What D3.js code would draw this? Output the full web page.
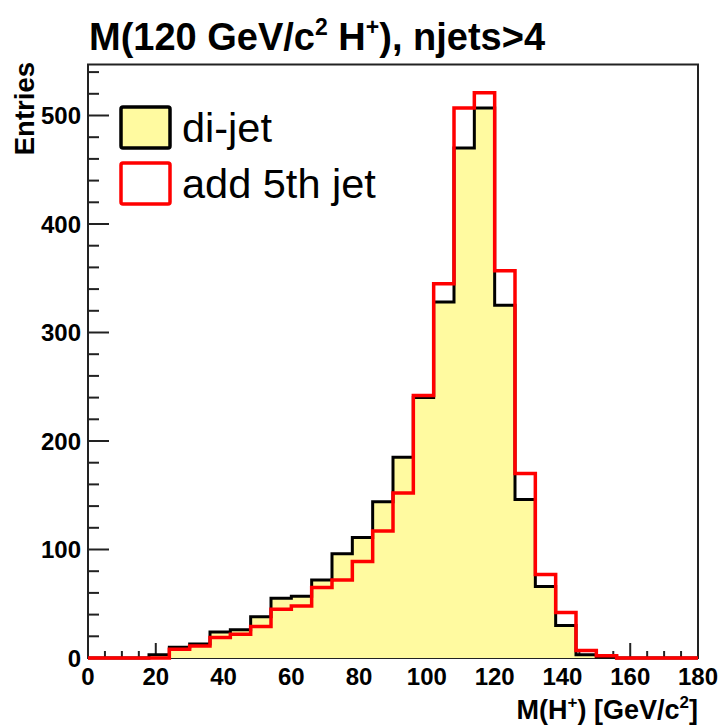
<!DOCTYPE html>
<html><head><meta charset="utf-8">
<script src="https://cdn.jsdelivr.net/npm/d3@7"></script>
<style>
html,body{margin:0;padding:0;background:#fff;}
svg text{font-family:"Liberation Sans",Arial,Helvetica,sans-serif;}
</style></head>
<body>
<svg id="c" width="724" height="725"></svg>
<script>
// Data: 30 bins of 6 GeV from 0 to 180
const binLow = 0, binWidth = 6;
const dijet    = [0,0,0,3,10,13,24,26,38,55,57,72,96,111,144,185,240,328,470,507,325,146,66,30,3,1,0,0,0,0];
const add5th   = [0,0,0,0,8,11,19,22,29,45,48,65,72,89,117,152,242,345,507,521,357,170,77,42,7,2,0,0,0,0];
const xTicks = [0,20,40,60,80,100,120,140,160,180];
const yTicks = [0,100,200,300,400,500];
const legendLabels = ["di-jet","add 5th jet"];

const svg = d3.select("#c");
const L = 88, R = 698, T = 64.5, B = 658;
const x = d3.scaleLinear().domain([0,180]).range([L,R]);
const y = d3.scaleLinear().domain([0,547]).range([B,T]);
const fillYellow = "#fffaa0";

// frame
svg.append("rect").attr("x",L).attr("y",T).attr("width",R-L).attr("height",B-T)
  .attr("fill","none").attr("stroke","#222").attr("stroke-width",2);

// y axis ticks (inside, pointing right)
const gy = svg.append("g");
const yMinor = d3.range(0,547,20);
gy.selectAll("line.mi").data(yMinor).enter().append("line")
  .attr("x1",L).attr("x2",d=> (d%100===0)? L+21 : L+11)
  .attr("y1",d=>y(d)).attr("y2",d=>y(d)).attr("stroke","#222").attr("stroke-width",2);
gy.selectAll("text").data(yTicks).enter().append("text")
  .attr("x",L-7).attr("y",d=>y(d)).attr("dy","0.36em").attr("text-anchor","end")
  .attr("font-weight","bold").attr("font-size",24).text(d=>d);

// x axis ticks (inside, pointing up)
const gx = svg.append("g");
const xMinor = d3.range(0,181,5);
gx.selectAll("line").data(xMinor).enter().append("line")
  .attr("x1",d=>x(d)).attr("x2",d=>x(d))
  .attr("y1",B).attr("y2",d=> (d%20===0)? B-15 : B-7)
  .attr("stroke","#222").attr("stroke-width",2);
gx.selectAll("text").data(xTicks).enter().append("text")
  .attr("x",d=>x(d)).attr("y",685).attr("text-anchor","middle")
  .attr("font-weight","bold").attr("font-size",24).text(d=>d);

// histogram paths
function stepPath(vals, closeToBase){
  let p = "";
  const x0 = binLow;
  if (closeToBase) p += "M"+x(x0)+","+y(0)+"L"+x(x0)+","+y(vals[0]);
  else p += "M"+x(x0)+","+y(vals[0]);
  vals.forEach((v,i)=>{
    const xa = x(binLow+i*binWidth), xb = x(binLow+(i+1)*binWidth);
    p += "L"+xa+","+y(v)+"L"+xb+","+y(v);
  });
  if (closeToBase) p += "L"+x(binLow+vals.length*binWidth)+","+y(0)+"Z";
  return p;
}
svg.append("path").attr("d",stepPath(dijet,true)).attr("fill",fillYellow).attr("stroke","none");
svg.append("path").attr("d",stepPath(dijet,false)).attr("fill","none")
  .attr("stroke","#000").attr("stroke-width",3).attr("stroke-linejoin","miter");
svg.append("path").attr("d",stepPath(add5th,false)).attr("fill","none")
  .attr("stroke","#ff0000").attr("stroke-width",3.5).attr("stroke-linejoin","miter");

// legend
const leg = svg.append("g");
const legStyles = [{fill:fillYellow, stroke:"#000"},{fill:"#fff", stroke:"#ff0000"}];
legendLabels.forEach((lab,i)=>{
  const by = 107 + i*56;
  leg.append("rect").attr("x",121).attr("y",by).attr("width",49).attr("height",41)
    .attr("rx",2).attr("fill",legStyles[i].fill).attr("stroke",legStyles[i].stroke).attr("stroke-width",3.5);
  leg.append("text").attr("x",182).attr("y",by+35).attr("font-size",41.5).text(lab);
});

// title
const t = svg.append("text").attr("x",89).attr("y",50).attr("font-weight","bold").attr("font-size",38);
t.append("tspan").text("M(120 GeV/c");
t.append("tspan").attr("font-size",23).attr("dy",-15).text("2");
t.append("tspan").attr("dy",15).text(" H");
t.append("tspan").attr("font-size",23).attr("dy",-15).text("+");
t.append("tspan").attr("dy",15).text("), njets>4");

// x title
const xt = svg.append("text").attr("x",698).attr("y",719).attr("text-anchor","end")
  .attr("font-weight","bold").attr("font-size",27);
xt.append("tspan").text("M(H");
xt.append("tspan").attr("font-size",17).attr("dy",-11).text("+");
xt.append("tspan").attr("dy",11).text(") [GeV/c");
xt.append("tspan").attr("font-size",17).attr("dy",-11).text("2");
xt.append("tspan").attr("dy",11).text("]");

// y title
svg.append("text").attr("transform","translate(34,62) rotate(-90)")
  .attr("text-anchor","end").attr("font-weight","bold").attr("font-size",27.5).text("Entries");
</script>
</body></html>
